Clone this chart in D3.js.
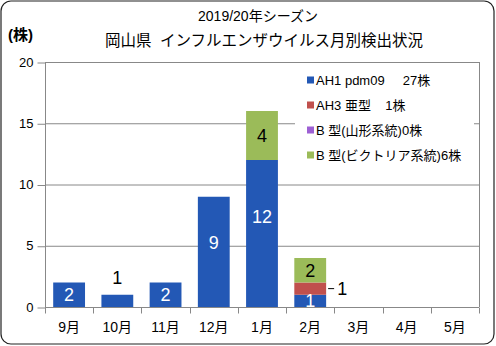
<!DOCTYPE html>
<html>
<head>
<meta charset="utf-8">
<script src="https://cdn.jsdelivr.net/npm/d3@7"></script>
<style>
  body { margin: 0; background: #fff; }
  svg { display: block; }
  text { font-family: "Liberation Sans", "Noto Sans CJK JP", sans-serif; white-space: pre; }
</style>
</head>
<body>
<script>
// data
const months = ["9月", "10月", "11月", "12月", "1月", "2月", "3月", "4月", "5月"];
const ah1 = [2, 1, 2, 9, 12, 1, 0, 0, 0];
const ah3 = [0, 0, 0, 0, 0, 1, 0, 0, 0];
const bYamagata = [0, 0, 0, 0, 0, 0, 0, 0, 0];
const bVictoria = [0, 0, 0, 0, 4, 2, 0, 0, 0];
const seriesKeys = ["ah1", "ah3", "bYam", "bVic"];
const legendLabels = ["AH1 pdm09     27株", "AH3 亜型    1株", "B 型(山形系統)0株", "B 型(ビクトリア系統)6株"];
const yTicks = [0, 5, 10, 15, 20];

const colors = { ah1: "#2358b5", ah3: "#c0504d", bYam: "#9d60d4", bVic: "#9bbb59" };

const W = 496, H = 346;
const margin = { top: 62, right: 17, bottom: 39, left: 45 };
const gW = W - margin.left - margin.right;
const gH = H - margin.top - margin.bottom;

const rows = months.map((m, i) => ({
  month: m, ah1: ah1[i], ah3: ah3[i], bYam: bYamagata[i], bVic: bVictoria[i]
}));

const svg = d3.select("body").append("svg")
  .attr("width", W).attr("height", H);

// outer frame
svg.append("rect")
  .attr("x", 1).attr("y", 1).attr("width", W - 3).attr("height", H - 3)
  .attr("rx", 10).attr("fill", "#fff").attr("stroke", "#222").attr("stroke-width", 1.2);

// titles
svg.append("text").attr("x", 258).attr("y", 21).attr("text-anchor", "middle")
  .attr("font-size", 14).text("2019/20年シーズン");
svg.append("text").attr("x", 264).attr("y", 46).attr("text-anchor", "middle")
  .attr("font-size", 15.5).text("岡山県  インフルエンザウイルス月別検出状況");
svg.append("text").attr("x", 8).attr("y", 40)
  .attr("font-size", 15).attr("font-weight", "bold").text("(株)");

const x = d3.scaleBand().domain(months).range([0, gW])
  .paddingInner(0.34).paddingOuter(0.17);
const y = d3.scaleLinear().domain([0, 20]).range([gH, 0]);

const g = svg.append("g").attr("transform", `translate(${margin.left},${margin.top})`);

// gridlines
g.selectAll("line.grid").data(yTicks.filter(d => d > 0)).enter().append("line")
  .attr("class", "grid")
  .attr("x1", 0).attr("x2", gW)
  .attr("y1", d => y(d) + 0.5).attr("y2", d => y(d) + 0.5)
  .attr("stroke", "#888").attr("stroke-width", 1);
// plot right border
g.append("line").attr("x1", gW + 0.5).attr("x2", gW + 0.5).attr("y1", 0).attr("y2", gH)
  .attr("stroke", "#888");

// y axis
const yAxis = d3.axisLeft(y).tickValues(yTicks).tickSize(8).tickPadding(4);
const ya = g.append("g").attr("transform", "translate(0.5,0)").call(yAxis);
ya.select(".domain").attr("stroke", "#888").attr("d", `M0,0V${gH}`);
ya.selectAll(".tick line").attr("stroke", "#888").attr("transform", "translate(0,0.5)");
ya.selectAll(".tick text").attr("font-size", 13).attr("fill", "#000")
  .attr("font-family", "Liberation Sans, sans-serif");

// x axis with ticks at band boundaries
const xa = g.append("g").attr("transform", `translate(0,${gH + 0.5})`);
xa.append("line").attr("x1", 0).attr("x2", gW).attr("stroke", "#888");
const step = x.step();
xa.selectAll("line.tk").data(d3.range(months.length + 1)).enter().append("line")
  .attr("class", "tk")
  .attr("x1", i => Math.round(i * step) + 0.5).attr("x2", i => Math.round(i * step) + 0.5)
  .attr("y1", 0).attr("y2", 6).attr("stroke", "#888");
xa.selectAll("text").data(months).enter().append("text")
  .attr("x", d => x(d) + x.bandwidth() / 2).attr("y", 24)
  .attr("text-anchor", "middle").attr("font-size", 14).text(d => d);

// stacked bars
const stack = d3.stack().keys(seriesKeys)(rows);
const layers = g.selectAll("g.layer").data(stack).enter().append("g")
  .attr("class", "layer").attr("fill", d => colors[d.key]);
layers.selectAll("rect").data(d => d.filter(s => s[1] > s[0])).enter().append("rect")
  .attr("x", d => x(d.data.month))
  .attr("y", d => y(d[1]))
  .attr("width", x.bandwidth())
  .attr("height", d => y(d[0]) - y(d[1]));

// data labels
const labelAbove = ["10月"];            // AH1 label placed above the bar
const labelRight = { ah3: ["2月"] };    // small segment labelled to the right with a leader
const nudge = { "12月": -9, "1月": -17 }; // AH1 labels sit higher than centre

stack.forEach(layer => {
  layer.filter(s => s[1] > s[0]).forEach(s => {
    const m = s.data.month;
    const v = s[1] - s[0];
    const cx = x(m) + x.bandwidth() / 2;
    let cy = (y(s[0]) + y(s[1])) / 2;
    let fill = layer.key === "ah1" ? "#fff" : "#000";
    let tx = cx, anchor = "middle";
    if (layer.key === "ah1" && labelAbove.includes(m)) {
      cy = y(s[1]) - 17;
      fill = "#000";
    } else if ((labelRight[layer.key] || []).includes(m)) {
      tx = x(m) + x.bandwidth() + 11;
      anchor = "start";
      g.append("line").attr("x1", x(m) + x.bandwidth() + 2).attr("x2", x(m) + x.bandwidth() + 8)
        .attr("y1", cy).attr("y2", cy).attr("stroke", "#000");
      fill = "#000";
    } else if (layer.key === "ah1" && nudge[m]) {
      cy += nudge[m];
    }
    g.append("text").attr("x", tx).attr("y", cy).attr("dy", "0.36em")
      .attr("text-anchor", anchor).attr("font-size", 18).attr("fill", fill)
      .text(v);
  });
});

// legend
const lg = svg.append("g");
lg.append("rect").attr("x", 295).attr("y", 68).attr("width", 179).attr("height", 99)
  .attr("fill", "#fff");
const items = lg.selectAll("g.item").data(seriesKeys).enter().append("g")
  .attr("class", "item")
  .attr("transform", (d, i) => `translate(307,${80 + i * 25})`);
items.append("rect").attr("x", 0).attr("y", -3.5).attr("width", 7).attr("height", 7)
  .attr("fill", d => colors[d]);
items.append("text").attr("x", 9).attr("y", 0).attr("dy", "0.36em")
  .attr("font-size", 13).text((d, i) => legendLabels[i]);
</script>
</body>
</html>
